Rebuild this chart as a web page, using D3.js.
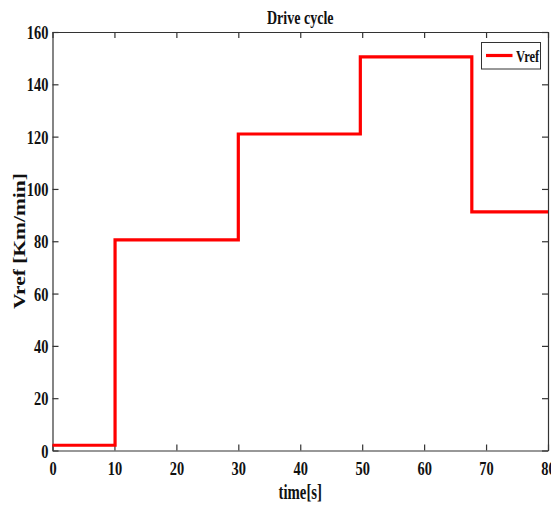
<!DOCTYPE html>
<html>
<head>
<meta charset="utf-8">
<script src="https://cdn.jsdelivr.net/npm/d3@7"></script>
<style>
  html, body { margin: 0; padding: 0; background: #fff; }
  svg { display: block; }
  text { font-family: "Liberation Serif", "Times New Roman", serif; font-weight: bold; fill: #111; }
</style>
</head>
<body>
<svg id="chart" width="551" height="506"></svg>
<script>
// Step reference speed: each segment holds a constant value between breakpoints
const stepTimes  = [0, 10.1, 30, 49.7, 67.7, 80];     // segment boundaries [s]
const stepValues = [2, 80.5, 121, 150.5, 91.2];       // Vref per segment [Km/min]
const xTicks = [0, 10, 20, 30, 40, 50, 60, 70, 80];
const yTicks = [0, 20, 40, 60, 80, 100, 120, 140, 160];
const seriesName = "Vref";

const svg = d3.select("#chart");
const m = { left: 52.5, right: 548, top: 32, bottom: 450.5 };
const SX = 0.74; // narrow glyph width used for all text

const x = d3.scaleLinear().domain([0, 80]).range([m.left, m.right]);
const y = d3.scaleLinear().domain([0, 160]).range([m.bottom, m.top]);

// build the step path points from segment boundaries and values
const pts = [];
stepValues.forEach((v, i) => {
  pts.push([stepTimes[i], v]);
  pts.push([stepTimes[i + 1], v]);
});

const axisColor = "#333";

// bottom axis (ticks inside)
const gx = svg.append("g").attr("transform", `translate(0,${m.bottom})`)
  .call(d3.axisBottom(x).tickValues(xTicks).tickSizeInner(-6).tickSizeOuter(0).tickFormat(d3.format("d")));
gx.selectAll("text").attr("y", 25).attr("dy", null)
  .attr("transform", `scale(${SX},1)`).style("font-size", "19.5px").style("fill", "#111");

// left axis (ticks inside)
const gy = svg.append("g").attr("transform", `translate(${m.left},0)`)
  .call(d3.axisLeft(y).tickValues(yTicks).tickSizeInner(-6).tickSizeOuter(0).tickFormat(d3.format("d")));
gy.selectAll("text").attr("x", -4 / SX).attr("dy", "0.34em")
  .attr("transform", `scale(${SX},1)`).style("font-size", "19.5px").style("fill", "#111");

// top and right axes: tick marks only
svg.append("g").attr("transform", `translate(0,${m.top})`)
  .call(d3.axisTop(x).tickValues(xTicks).tickSizeInner(-6).tickSizeOuter(0).tickFormat(""));
svg.append("g").attr("transform", `translate(${m.right},0)`)
  .call(d3.axisRight(y).tickValues(yTicks).tickSizeInner(-6).tickSizeOuter(0).tickFormat(""));

svg.selectAll(".domain, .tick line").attr("stroke", axisColor).attr("stroke-width", 1.2);

// data line
svg.append("path")
  .datum(pts)
  .attr("fill", "none")
  .attr("stroke", "#ff0000")
  .attr("stroke-width", 3.2)
  .attr("d", d3.line().x(d => x(d[0])).y(d => y(d[1])));

// title and axis labels
function label(txt, tx, ty, size) {
  return svg.append("text")
    .attr("transform", `translate(${tx},${ty}) scale(${SX},1)`)
    .attr("text-anchor", "middle")
    .style("font-size", size + "px")
    .text(txt);
}
label("Drive cycle", (m.left + m.right) / 2, 24, 19);
label("time[s]", (m.left + m.right) / 2, 499, 20);
svg.append("text")
  .attr("transform", `translate(25,241) scale(${SX},1) rotate(-90)`)
  .attr("text-anchor", "middle")
  .style("font-size", "21.5px")
  .text("Vref [Km/min]");

// legend
const lg = svg.append("g");
lg.append("rect").attr("x", 481.5).attr("y", 42.5).attr("width", 59).attr("height", 26.5)
  .attr("fill", "#fff").attr("stroke", "#333").attr("stroke-width", 1);
lg.append("line").attr("x1", 486).attr("x2", 512.5).attr("y1", 55.5).attr("y2", 55.5)
  .attr("stroke", "#ff0000").attr("stroke-width", 3.2);
lg.append("text")
  .attr("transform", `translate(516,61.5) scale(${SX},1)`)
  .style("font-size", "17px")
  .text(seriesName);
</script>
</body>
</html>
